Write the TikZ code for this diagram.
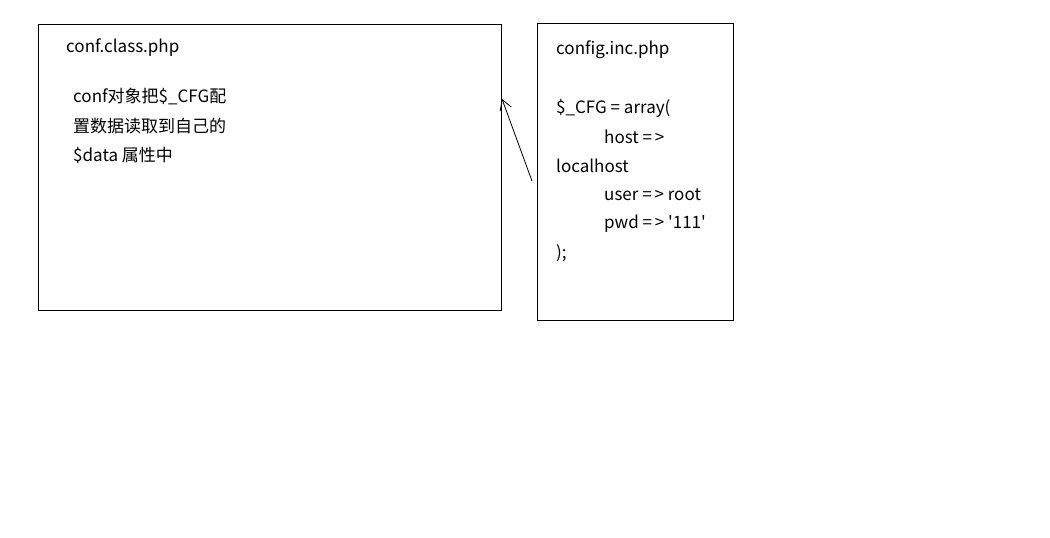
\documentclass[tikz,border=0pt]{standalone}
\usepackage{fontspec}
\setmainfont{Noto Sans CJK SC}
\usetikzlibrary{arrows.meta}
\begin{document}
\begin{tikzpicture}[x=1pt,y=-1pt,
  box/.style={draw=black,line width=0.9pt},
  txt/.style={anchor=west,inner sep=0pt,font=\fontsize{17}{20}\selectfont},
  conn/.style={draw=black,line width=0.8pt,-{Straight Barb[length=10pt,width=12pt]}}]
\useasboundingbox[fill=white] (0,0) rectangle (1050,538);
\draw[box] (38,24) rectangle (501,310);
\draw[box] (537,23) rectangle (733,320);
\node[txt] (t1) at (66,48) {conf.class.php};
\node[txt] (t2) at (73,97) {conf对象把\$\_CFG配};
\node[txt] (t3) at (73,126) {置数据读取到自己的};
\node[txt] (t4) at (73,155) {\$data 属性中};
\node[txt] (r1) at (556,50) {config.inc.php};
\node[txt] (r2) at (556,108) {\$\_CFG = array(};
\node[txt] (r3) at (604,137) {host =\,>};
\node[txt] (r4) at (556,166) {localhost};
\node[txt] (r5) at (604,195) {user =\,> root};
\node[txt] (r6) at (604,224) {pwd =\,> \textquotesingle 111\textquotesingle};
\node[txt] (r7) at (556,253) {);};
\coordinate (from) at (532,181);
\coordinate (to) at (502,99);
\draw[conn] (from) -- (to);
\end{tikzpicture}
\end{document}
